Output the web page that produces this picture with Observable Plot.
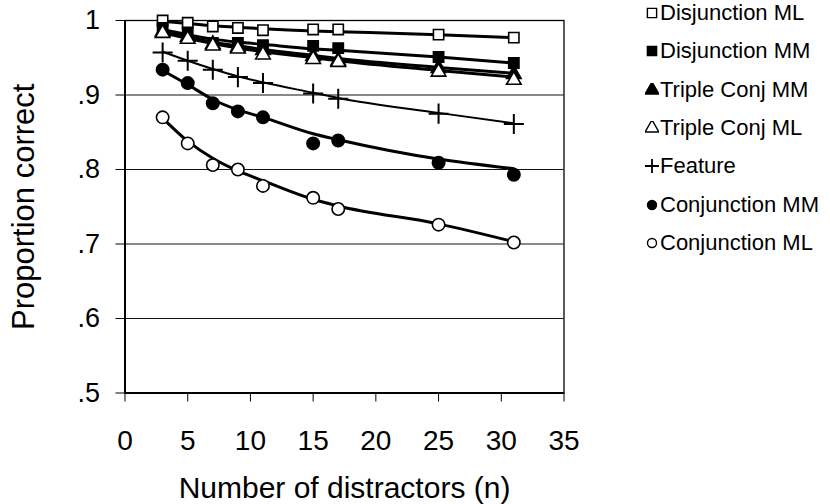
<!DOCTYPE html>
<html><head><meta charset="utf-8">
<script src="https://cdn.jsdelivr.net/npm/d3@7"></script>
<script src="https://cdn.jsdelivr.net/npm/@observablehq/plot@0.6"></script>
<style>
body{margin:0;background:#fff;}
#wrap{position:relative;width:830px;height:504px;font-family:"Liberation Sans",Arial,sans-serif;}
#legend{position:absolute;left:645px;top:0;}
.item{position:absolute;left:0;height:24px;display:flex;align-items:center;font-size:22px;white-space:nowrap;color:#000;}
.item svg{margin-right:1px;}
</style></head><body><div id="wrap"><div id="legend"></div></div>
<script>
// x categories
const distractors = [3, 5, 7, 9, 11, 15, 17, 25, 31];
const xTicks = [0, 5, 10, 15, 20, 25, 30, 35];
const yTicks = [0.5, 0.6, 0.7, 0.8, 0.9, 1.0];
const seriesNames = ["Disjunction ML", "Disjunction MM", "Triple Conj MM", "Triple Conj ML", "Feature", "Conjunction MM", "Conjunction ML"];

// observed proportions
const disjML  = [1.000, 0.997, 0.992, 0.990, 0.987, 0.988, 0.988, 0.981, 0.977];
const disjMM  = [0.990, 0.984, 0.970, 0.970, 0.967, 0.966, 0.963, 0.951, 0.943];
const tripMM  = [0.985, 0.978, 0.968, 0.964, 0.960, 0.952, 0.946, 0.936, 0.928];
const tripML  = [0.983, 0.975, 0.966, 0.962, 0.954, 0.948, 0.944, 0.931, 0.920];
const feature = [0.957, 0.946, 0.934, 0.924, 0.916, 0.902, 0.895, 0.875, 0.861];
const conjMM  = [0.934, 0.916, 0.889, 0.878, 0.870, 0.835, 0.839, 0.809, 0.793];
const conjML  = [0.870, 0.835, 0.806, 0.800, 0.778, 0.762, 0.747, 0.726, 0.702];

// fitted curves (at each n)
const disjMLFit  = [0.999, 0.996, 0.993, 0.991, 0.989, 0.986, 0.985, 0.981, 0.977];
const disjMMFit  = [0.988, 0.981, 0.975, 0.971, 0.968, 0.962, 0.960, 0.951, 0.943];
const tripMMFit  = [0.986, 0.978, 0.971, 0.966, 0.961, 0.953, 0.949, 0.937, 0.929];
const tripMLFit  = [0.984, 0.976, 0.969, 0.963, 0.958, 0.950, 0.946, 0.933, 0.924];
const featureFit = [0.958, 0.946, 0.935, 0.925, 0.917, 0.903, 0.896, 0.876, 0.862];
const conjMMFit  = [0.933, 0.914, 0.894, 0.880, 0.870, 0.848, 0.840, 0.814, 0.801];
const conjMLFit  = [0.869, 0.838, 0.815, 0.798, 0.785, 0.760, 0.751, 0.727, 0.703];

const observed = [disjML, disjMM, tripMM, tripML, feature, conjMM, conjML];
const fitted = [disjMLFit, disjMMFit, tripMMFit, tripMLFit, featureFit, conjMMFit, conjMLFit];

// symbol styles per series
const styles = {
  "Disjunction ML": {symbol: "square", fill: "white", r: 5.8},
  "Disjunction MM": {symbol: "square", fill: "black", r: 5.8},
  "Triple Conj MM": {symbol: "triangle", fill: "black", r: 5.4},
  "Triple Conj ML": {symbol: "triangle", fill: "white", r: 5.4},
  "Feature":        {symbol: "plus", fill: "none", r: 6.5},
  "Conjunction MM": {symbol: "circle", fill: "black", r: 6.2},
  "Conjunction ML": {symbol: "circle", fill: "white", r: 6.2}
};

const pts = [], fits = [];
seriesNames.forEach((s, i) => {
  distractors.forEach((n, j) => {
    pts.push({series: s, n, p: observed[i][j]});
    fits.push({series: s, n, p: fitted[i][j]});
  });
});

const fmtY = d => d === 1 ? "1" : d3.format(".1f")(d).replace(/^0/, "");

const marks = [
  Plot.gridY(yTicks.filter(d => d > 0.5 && d < 1), {stroke: "#111", strokeOpacity: 1, strokeWidth: 1}),
  Plot.frame({stroke: "#000", strokeWidth: 1.3}),
  Plot.ruleX([0], {stroke: "#000", strokeWidth: 2}),
  Plot.ruleY([0.5], {stroke: "#000", strokeWidth: 2}),
  Plot.axisX({ticks: xTicks, tickSize: 9, tickPadding: 28, fontSize: 28, label: null, tickFormat: d => String(d)}),
  Plot.axisX({ticks: [], label: "Number of distractors (n)", labelAnchor: "center", labelArrow: "none", labelOffset: 105, fontSize: 30}),
  Plot.axisY({ticks: yTicks, tickSize: 9, tickPadding: 16, fontSize: 27, label: null, tickFormat: fmtY}),
  Plot.axisY({ticks: [], label: "Proportion correct", labelAnchor: "center", labelArrow: "none", labelOffset: 113, fontSize: 31})
];
seriesNames.forEach(s => {
  marks.push(Plot.line(fits.filter(d => d.series === s), {x: "n", y: "p", curve: "monotone-x", stroke: "#000", strokeWidth: s === "Feature" ? 2 : 3}));
});
seriesNames.forEach(s => {
  const st = styles[s];
  marks.push(Plot.dot(pts.filter(d => d.series === s), {x: "n", y: "p", symbol: st.symbol, r: st.r, fill: st.fill === "none" ? null : st.fill, stroke: "#000", strokeWidth: s === "Feature" ? 2 : 1.6}));
});

const chart = Plot.plot({
  width: 830, height: 504,
  marginLeft: 124.5, marginRight: 266.5, marginTop: 20, marginBottom: 111.5,
  style: {fontFamily: '"Liberation Sans", Arial, sans-serif', color: "#000", background: "white"},
  x: {domain: [0, 35]},
  y: {domain: [0.5, 1]},
  marks
});
document.getElementById("wrap").prepend(chart);

// legend (HTML, beside the chart)
const legend = document.getElementById("legend");
const symMap = {square: d3.symbolSquare, triangle: d3.symbolTriangle, circle: d3.symbolCircle, plus: d3.symbolPlus};
seriesNames.forEach((s, i) => {
  const st = styles[s];
  const item = document.createElement("div");
  item.className = "item";
  item.style.top = (1 + i * 38.3) + "px";
  const svg = d3.create("svg").attr("width", 14).attr("height", 14);
  const size = st.symbol === "plus" ? 130 : (st.symbol === "circle" ? 64 : 85);
  svg.append("path").attr("transform", "translate(7,7)")
    .attr("d", d3.symbol(symMap[st.symbol], size)())
    .attr("fill", st.fill).attr("stroke", "#000").attr("stroke-width", st.symbol === "plus" ? 1.8 : 1.4);
  item.appendChild(svg.node());
  const span = document.createElement("span");
  span.textContent = s;
  item.appendChild(span);
  legend.appendChild(item);
});
</script></body></html>
